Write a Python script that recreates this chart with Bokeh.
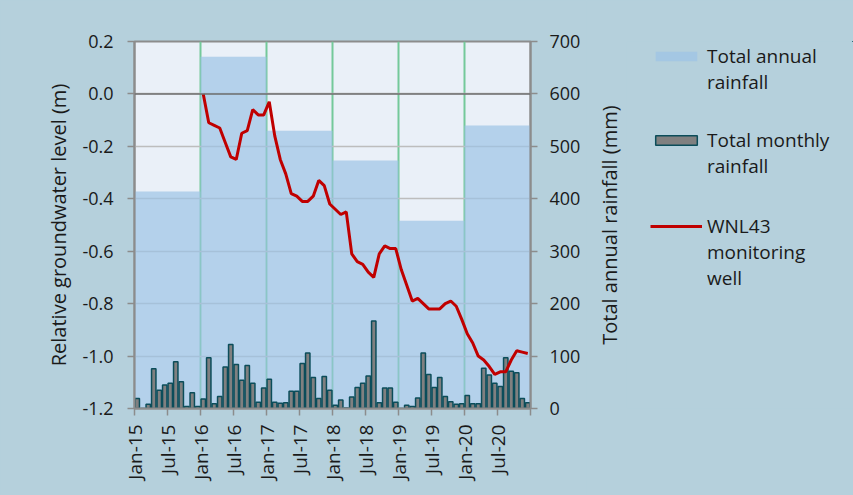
import math
import numpy as np
from bokeh.plotting import figure
from bokeh.layouts import row
from bokeh.models import (Range1d, LinearAxis, FixedTicker, PrintfTickFormatter,
                          Legend, LegendItem, Span, ColumnDataSource, BoxAnnotation)
from bokeh.embed import file_html
from bokeh.resources import INLINE

# ---------------- data ----------------
years = ["2015", "2016", "2017", "2018", "2019", "2020"]
annual_rain = [414, 671, 530, 473, 358, 540]

monthly_rain = [
    19, 0, 8, 76, 35, 45, 48, 89, 51, 4, 30, 4,        # 2015
    18, 97, 9, 23, 79, 122, 84, 54, 82, 48, 12, 39,    # 2016
    56, 12, 10, 11, 33, 33, 86, 106, 59, 19, 61, 35,   # 2017
    6, 16, 1, 22, 40, 48, 62, 167, 11, 39, 39, 12,     # 2018
    0, 6, 4, 20, 106, 65, 40, 59, 23, 13, 8, 9,        # 2019
    25, 9, 9, 77, 64, 48, 42, 97, 71, 68, 19, 11,      # 2020
]

gw_start_month = 12  # series begins Jan-16
groundwater = [
    0.00, -0.11, -0.12, -0.13, -0.185, -0.24, -0.25, -0.15, -0.14, -0.06, -0.08, -0.08,   # 2016
    -0.03, -0.16, -0.25, -0.305, -0.38, -0.39, -0.41, -0.41, -0.39, -0.33, -0.35, -0.42, # 2017
    -0.44, -0.46, -0.45, -0.61, -0.64, -0.65, -0.68, -0.70, -0.61, -0.58, -0.59, -0.59,  # 2018
    -0.67, -0.73, -0.79, -0.78, -0.80, -0.82, -0.82, -0.82, -0.80, -0.79, -0.81, -0.86,  # 2019
    -0.915, -0.95, -1.00, -1.015, -1.04, -1.07, -1.06, -1.06, -1.015, -0.98, -0.985, -0.99, # 2020
]

tick_labels = ["Jan-15", "Jul-15", "Jan-16", "Jul-16", "Jan-17", "Jul-17",
               "Jan-18", "Jul-18", "Jan-19", "Jul-19", "Jan-20", "Jul-20", ""]
gw_ticks = [-1.2, -1.0, -0.8, -0.6, -0.4, -0.2, 0.0, 0.2]
rain_ticks = [0, 100, 200, 300, 400, 500, 600, 700]

legend_first = ["Total annual", "Total monthly", "WNL43"]
legend_rest = ["rainfall", "rainfall", "monitoring\nwell"]
left_title = "Relative groundwater level (m)"
right_title = "Total annual rainfall (mm)"

# ---------------- styling ----------------
FONT = "Open Sans"
TXT = "#1A1A1A"
AXIS = "#8C8C8C"
BG = "#B5D0DC"
ANN_COLOR = "#9DC3E6"
MON_FILL = "#808080"
MON_LINE = "#0B4D5A"
GW_COLOR = "#C00000"

n_months = len(monthly_rain)
p = figure(width=586, height=495, output_backend="svg", toolbar_location=None,
           x_range=Range1d(0, n_months), y_range=Range1d(gw_ticks[0], gw_ticks[-1]),
           min_border_left=134, min_border_right=56, min_border_top=41,
           min_border_bottom=87)
p.extra_y_ranges = {"rain": Range1d(rain_ticks[0], rain_ticks[-1])}

p.background_fill_color = "#EAF0F8"
p.border_fill_color = BG
p.outline_line_color = AXIS
p.outline_line_width = 2

# grids
p.ygrid.ticker = FixedTicker(ticks=gw_ticks)
p.ygrid.grid_line_color = "#BDBDBD"
p.ygrid.grid_line_width = 1.5
p.xgrid.ticker = FixedTicker(ticks=[12 * (k + 1) for k in range(len(years) - 1)])
p.xgrid.grid_line_color = "#74C99A"
p.xgrid.grid_line_width = 2

# annual bars
ann_src = ColumnDataSource(dict(x=np.arange(len(annual_rain)) * 12 + 6, top=annual_rain))
p.vbar(x="x", top="top", width=12, bottom=0, source=ann_src, y_range_name="rain",
       fill_color=ANN_COLOR, fill_alpha=0.7, line_color=None)

# monthly bars
mon_src = ColumnDataSource(dict(x=np.arange(n_months) + 0.5, top=monthly_rain))
p.vbar(x="x", top="top", width=0.8, bottom=0, source=mon_src, y_range_name="rain",
       fill_color=MON_FILL, line_color=MON_LINE, line_width=1.5)

p.add_layout(Span(location=0, dimension="width", line_color="#6E6E6E", line_width=1.5))

# groundwater line
gw_src = ColumnDataSource(dict(x=np.arange(len(groundwater)) + gw_start_month + 0.5,
                               y=groundwater))
p.line(x="x", y="y", source=gw_src, line_color=GW_COLOR, line_width=3)

# axes
def style_axis(ax):
    ax.axis_line_color = AXIS
    ax.axis_line_width = 2
    ax.major_tick_line_color = AXIS
    ax.major_tick_line_width = 1.5
    ax.major_tick_out = 7
    ax.major_tick_in = 0
    ax.minor_tick_line_color = None
    ax.major_label_text_font = FONT
    ax.major_label_text_font_size = "18px"
    ax.major_label_text_color = TXT
    ax.axis_label_text_font = FONT
    ax.axis_label_text_font_size = "20px"
    ax.axis_label_text_font_style = "normal"
    ax.axis_label_text_color = TXT

yl = p.yaxis[0]
yl.ticker = FixedTicker(ticks=gw_ticks)
yl.formatter = PrintfTickFormatter(format="%.1f")
yl.axis_label = left_title
style_axis(yl)
yl.major_label_standoff = 14
yl.axis_label_standoff = 7

yr = LinearAxis(y_range_name="rain", ticker=FixedTicker(ticks=rain_ticks))
style_axis(yr)
yr.major_label_standoff = 12
p.add_layout(yr, "right")

xb = p.xaxis[0]
tick_pos = list(range(0, n_months + 1, 6))
xb.ticker = FixedTicker(ticks=tick_pos)
xb.major_label_overrides = {t: lab for t, lab in zip(tick_pos, tick_labels)}
xb.major_label_orientation = math.pi / 2
style_axis(xb)
xb.major_label_text_font_size = "19px"
xb.major_label_standoff = 9

# ---------------- right-hand panel: axis title + legend ----------------
q = figure(width=267, height=495, output_backend="svg", toolbar_location=None,
           x_range=Range1d(-20, -10), y_range=Range1d(-20, -10), x_axis_location=None,
           min_border_left=40, min_border_right=0, min_border_top=41,
           min_border_bottom=87)
q.background_fill_color = None
q.border_fill_color = BG
q.outline_line_color = None
q.xgrid.visible = False
q.ygrid.visible = False

ql = q.yaxis[0]
ql.ticker = FixedTicker(ticks=[])
ql.axis_line_color = None
ql.major_tick_line_color = None
ql.minor_tick_line_color = None
ql.major_tick_out = 0
ql.major_tick_in = 0
ql.major_label_standoff = 0
ql.axis_label = right_title
ql.axis_label_standoff = 4
ql.axis_label_text_font = FONT
ql.axis_label_text_font_size = "20px"
ql.axis_label_text_font_style = "normal"
ql.axis_label_text_color = TXT

# legend keys: same series and styles, lying outside this panel's visible range
k_ann = q.vbar(x="x", top="top", width=12, source=ann_src,
               fill_color=ANN_COLOR, fill_alpha=0.7, line_color=None)
k_mon = q.vbar(x="x", top="top", width=0.8, source=mon_src,
               fill_color=MON_FILL, line_color=MON_LINE, line_width=1.5)
k_gw = q.line(x="x", y="y", source=gw_src, line_color=GW_COLOR, line_width=3)
k_none = q.line(x="x", y="y", source=gw_src, line_alpha=0)

# plain panel fill drawn above the (off-range) keys, below the legends
q.add_layout(BoxAnnotation(fill_color=BG, fill_alpha=1.0, line_color=None))

legend_pos = [(24, 313), (24, 229), (24, 117)]
for first, rest, key, loc in zip(legend_first, legend_rest, [k_ann, k_mon, k_gw], legend_pos):
    lg = Legend(items=[LegendItem(label=first, renderers=[key]),
                       LegendItem(label=rest, renderers=[k_none])], location=loc)
    lg.background_fill_alpha = 0
    lg.border_line_color = None
    lg.margin = 0
    lg.padding = 0
    lg.spacing = 0
    lg.glyph_width = 52
    lg.glyph_height = 12
    lg.label_standoff = 5
    lg.label_text_font = FONT
    lg.label_text_font_size = "19px"
    lg.label_text_line_height = 1.15
    lg.label_text_color = TXT
    q.add_layout(lg, "center")

layout = row(p, q, spacing=0, styles={"background-color": BG})
open("out.html", "w").write(file_html(layout, INLINE))
